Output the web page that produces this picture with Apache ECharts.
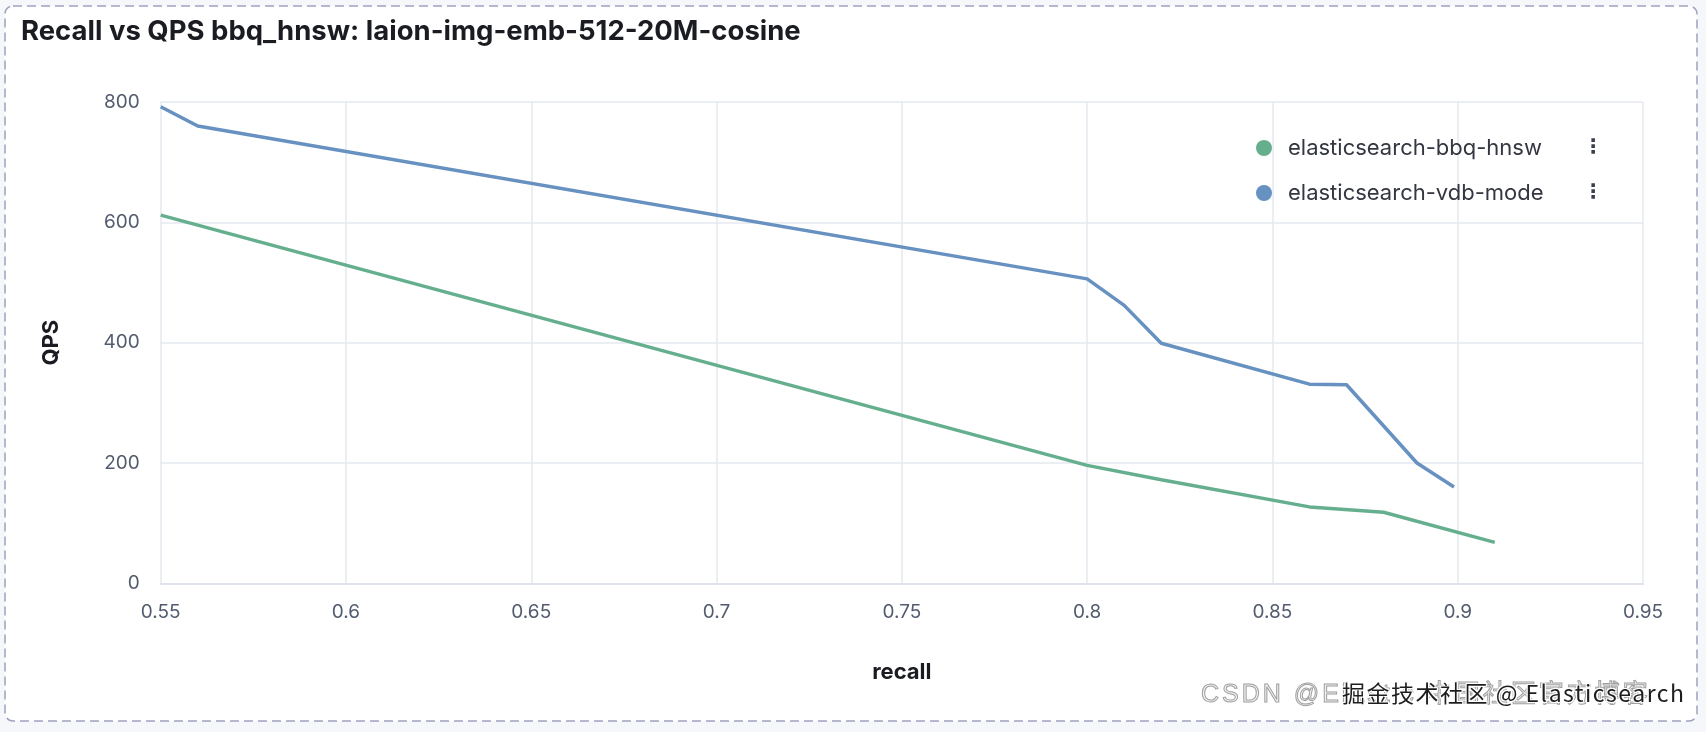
<!DOCTYPE html>
<html>
<head>
<meta charset="utf-8">
<script src="https://cdn.jsdelivr.net/npm/echarts@6/dist/echarts.min.js"></script>
<style>
  html, body { margin: 0; padding: 0; background: #f5f7fa; }
  #wrap { position: relative; width: 1706px; height: 732px; overflow: hidden; }
  #card { position: absolute; left: 0; top: 0; }
  #chart { position: absolute; left: 0; top: 0; width: 1706px; height: 732px; }
  .wm1 { position: absolute; left: 1201px; top: 679px; font-family: "Liberation Sans", "Noto Sans CJK SC", sans-serif;
         font-size: 25px; letter-spacing: 3px; color: #f2f2f2; -webkit-text-stroke: 1px #a0a0a0; white-space: nowrap; line-height: 28px; }
  .wm2 { position: absolute; left: 1342px; top: 678px; font-family: "Noto Sans CJK SC", sans-serif;
         font-size: 23px; letter-spacing: 1.5px; color: #1e1e1e; white-space: nowrap; line-height: 28px;
         text-shadow: 1px 1px 0 #fff, -1px -1px 0 #fff, 1px -1px 0 #fff, -1px 1px 0 #fff; }
</style>
</head>
<body>
<div id="wrap">
  <svg id="card" width="1706" height="732">
    <rect x="5" y="6" width="1692" height="715" rx="8" ry="8" fill="#ffffff" stroke="#9ea3bf" stroke-width="1.5" stroke-dasharray="9 5"/>
  </svg>
  <div id="chart"></div>
  <div class="wm1">CSDN @Elastic 中国社区官方博客</div>
  <div class="wm2">掘金技术社区 @ Elasticsearch</div>
</div>
<script>
const titleText = 'Recall vs QPS bbq_hnsw: laion-img-emb-512-20M-cosine';
const seriesNames = ['elasticsearch-bbq-hnsw', 'elasticsearch-vdb-mode'];
const recallBbq = [0.55, 0.80, 0.82, 0.86, 0.88, 0.91];
const qpsBbq = [612, 196, 172, 127, 118, 68];
const recallVdb = [0.55, 0.56, 0.80, 0.81, 0.82, 0.86, 0.87, 0.889, 0.899];
const qpsVdb = [792, 760, 506, 462, 399, 331, 330, 200, 160];
const xTicks = [0.55, 0.6, 0.65, 0.7, 0.75, 0.8, 0.85, 0.9, 0.95];
const yTicks = [0, 200, 400, 600, 800];

const pair = (xs, ys) => xs.map((x, i) => [x, ys[i]]);
const FONT = 'Inter, "Noto Sans", sans-serif';
const gridColor = '#e4e8ef';

const chart = echarts.init(document.getElementById('chart'), null, { renderer: 'canvas' });
chart.setOption({
  animation: false,
  backgroundColor: 'transparent',
  color: ['#65af8f', '#6691c0'],
  title: {
    text: titleText,
    left: 21, top: 18, padding: 0,
    textStyle: { fontFamily: FONT, fontSize: 27.5, fontWeight: 'bold', color: '#1a1c21' }
  },
  legend: {
    orient: 'vertical',
    left: 1256, top: 137, padding: 0,
    itemWidth: 16, itemHeight: 16, itemGap: 23,
    icon: 'circle',
    data: seriesNames,
    formatter: name => '{n|' + name + '}{i|⋮}',
    textStyle: {
      fontFamily: FONT, fontSize: 22, color: '#343741',
      rich: {
        n: { fontFamily: FONT, fontSize: 22, color: '#343741', width: 295, padding: [0, 0, 0, 11] },
        i: { fontFamily: '"DejaVu Sans", sans-serif', fontSize: 20, fontWeight: 'bold', color: '#3a3f4b' }
      }
    }
  },
  grid: { left: 160.7, right: 63, top: 102, bottom: 148.7, containLabel: false },
  xAxis: {
    type: 'value',
    min: xTicks[0], max: xTicks[xTicks.length - 1], interval: 0.05,
    name: 'recall', nameLocation: 'middle', nameGap: 78,
    nameTextStyle: { fontFamily: FONT, fontSize: 22, fontWeight: 'bold', color: '#1a1c21' },
    axisLine: { show: true, lineStyle: { color: '#dfe4ec', width: 2 } },
    axisTick: { show: false },
    axisLabel: { fontFamily: FONT, fontSize: 19, color: '#535b6e', margin: 19,
                 formatter: v => String(+v.toFixed(2)) },
    splitLine: { show: true, lineStyle: { color: gridColor, width: 1.5 } }
  },
  yAxis: {
    type: 'value',
    min: yTicks[0], max: yTicks[yTicks.length - 1], interval: 200,
    name: 'QPS', nameLocation: 'middle', nameGap: 98,
    nameTextStyle: { fontFamily: FONT, fontSize: 22, fontWeight: 'bold', color: '#1a1c21' },
    axisLine: { show: false },
    axisTick: { show: false },
    axisLabel: { fontFamily: FONT, fontSize: 19, color: '#535b6e', margin: 21 },
    splitLine: { show: true, lineStyle: { color: gridColor, width: 1.5 } }
  },
  series: [
    { name: seriesNames[0], type: 'line', data: pair(recallBbq, qpsBbq), showSymbol: false, symbol: 'none',
      lineStyle: { width: 3.5 }, itemStyle: { color: '#65af8f' } },
    { name: seriesNames[1], type: 'line', data: pair(recallVdb, qpsVdb), showSymbol: false, symbol: 'none',
      lineStyle: { width: 3.5 }, itemStyle: { color: '#6691c0' } }
  ]
});
</script>
</body>
</html>
